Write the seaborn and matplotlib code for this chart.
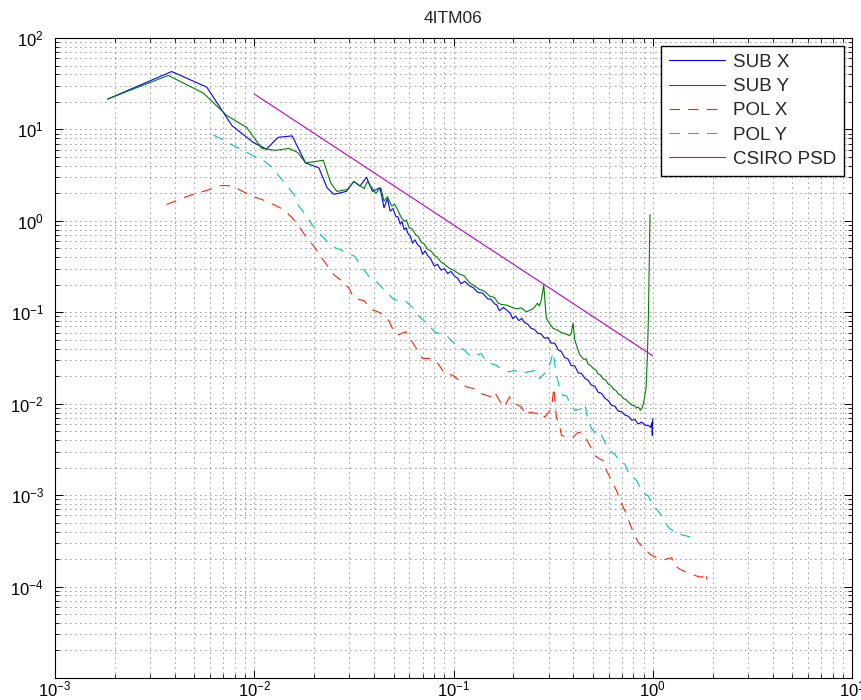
import matplotlib
matplotlib.use("Agg")
import matplotlib.pyplot as plt
import seaborn as sns
from matplotlib.ticker import LogLocator, NullFormatter, FixedLocator, FixedFormatter

# ---- spectra (frequency in Hz, PSD) ----
sub_x_freq = [0.00184, 0.00385, 0.00578, 0.00773, 0.0099, 0.0115, 0.0132, 0.0155, 0.0181, 0.0211,
              0.0232, 0.0251, 0.029, 0.0316, 0.0339, 0.0366, 0.0392, 0.0428, 0.0448, 0.0466,
              0.0481, 0.0497, 0.0513, 0.0527, 0.054, 0.0552, 0.0565, 0.0578, 0.0592, 0.0607,
              0.0623, 0.064, 0.066, 0.068, 0.070, 0.072, 0.0741, 0.077, 0.080, 0.083,
              0.0865, 0.090, 0.0935, 0.097, 0.101, 0.105, 0.109, 0.114, 0.120, 0.126,
              0.1324, 0.140, 0.1486, 0.154, 0.1607, 0.165, 0.170, 0.178, 0.1875, 0.193,
              0.1986, 0.205, 0.213, 0.220, 0.2275, 0.236, 0.245, 0.255, 0.265, 0.275,
              0.2864, 0.297, 0.309, 0.322, 0.335, 0.348, 0.361, 0.375, 0.390, 0.406,
              0.422, 0.439, 0.456, 0.474, 0.492, 0.512, 0.533, 0.553, 0.575, 0.598,
              0.621, 0.646, 0.672, 0.698, 0.725, 0.755, 0.784, 0.814, 0.846, 0.880,
              0.914, 0.950, 0.975, 0.990, 0.995, 1.000]
sub_x_psd = [21.5, 43, 29, 11.0, 7.2, 6.1, 8.2, 8.5, 4.3, 3.8,
             2.3, 1.95, 2.1, 2.7, 2.4, 3.0, 2.1, 2.3, 1.39, 1.75,
             1.28, 1.36, 1.12, 1.10, 0.92, 0.98, 0.80, 0.84, 0.72, 0.68,
             0.57, 0.62, 0.55, 0.52, 0.43, 0.47, 0.42, 0.38, 0.32, 0.335,
             0.29, 0.30, 0.265, 0.28, 0.25, 0.235, 0.205, 0.218, 0.195, 0.185,
             0.165, 0.162, 0.140, 0.139, 0.124, 0.120, 0.104, 0.113, 0.103, 0.097,
             0.085, 0.091, 0.081, 0.086, 0.077, 0.074, 0.067, 0.065, 0.059, 0.058,
             0.052, 0.053, 0.046, 0.046, 0.039, 0.037, 0.032, 0.031, 0.026, 0.026,
             0.0218, 0.0214, 0.0190, 0.0180, 0.0160, 0.0155, 0.0133, 0.0130, 0.0115, 0.0108,
             0.0096, 0.0094, 0.0083, 0.0082, 0.0075, 0.0073, 0.0066, 0.0067, 0.0060, 0.0063,
             0.0058, 0.0058, 0.0055, 0.0062, 0.0045, 0.0068]

sub_y_freq = [0.00184, 0.0037, 0.00556, 0.00728, 0.00918, 0.0109, 0.01277, 0.0149, 0.01652, 0.0181,
              0.0222, 0.0242, 0.0260, 0.0293, 0.0316, 0.0356, 0.0370, 0.0407, 0.0432, 0.0448,
              0.0466, 0.0490, 0.0507, 0.0524, 0.0545, 0.0565, 0.0580, 0.0599, 0.0620, 0.0647,
              0.0665, 0.0690, 0.0713, 0.0740, 0.0770, 0.0800, 0.0830, 0.0865, 0.0900, 0.0950,
              0.1010, 0.1070, 0.1133, 0.1200, 0.1270, 0.1350, 0.1430, 0.1520, 0.1607, 0.1670,
              0.1734, 0.1840, 0.1950, 0.2070, 0.2190, 0.2320, 0.2457, 0.2550, 0.2636, 0.2700,
              0.2760, 0.2838, 0.2890, 0.2924, 0.3030, 0.3160, 0.3320, 0.3480, 0.3650, 0.3830,
              0.3910, 0.3980, 0.4060, 0.4180, 0.4300, 0.4510, 0.4630, 0.4740, 0.4880, 0.5020,
              0.5170, 0.5320, 0.5480, 0.5650, 0.5810, 0.5980, 0.6160, 0.6350, 0.6530, 0.6720,
              0.6920, 0.7130, 0.7340, 0.7550, 0.7720, 0.7900, 0.8100, 0.8300, 0.8480, 0.8650,
              0.8800, 0.8980, 0.9250, 0.9400, 0.9510, 0.9620, 0.9690]
sub_y_psd = [21.5, 39, 24.9, 14.2, 10.5, 6.2, 5.9, 6.2, 5.6, 4.3,
             4.6, 2.6, 2.1, 2.2, 2.7, 2.25, 2.7, 2.0, 2.3, 1.64,
             1.84, 1.45, 1.52, 1.33, 1.10, 0.99, 1.02, 0.84, 0.82, 0.70,
             0.68, 0.58, 0.56, 0.49, 0.47, 0.42, 0.40, 0.355, 0.335, 0.305,
             0.285, 0.262, 0.250, 0.212, 0.195, 0.178, 0.170, 0.150, 0.145, 0.127,
             0.122, 0.120, 0.114, 0.109, 0.112, 0.101, 0.107, 0.113, 0.126, 0.117,
             0.137, 0.200, 0.116, 0.086, 0.076, 0.0667, 0.064, 0.0600, 0.058, 0.0555,
             0.060, 0.0758, 0.0497, 0.041, 0.0345, 0.0305, 0.031, 0.0270, 0.0262, 0.0243,
             0.0236, 0.0212, 0.0205, 0.0186, 0.0181, 0.0164, 0.0158, 0.0144, 0.0140, 0.0128,
             0.0124, 0.0114, 0.0111, 0.0103, 0.0101, 0.0096, 0.0095, 0.0090, 0.0092, 0.0085,
             0.0088, 0.0100, 0.0146, 0.0326, 0.0897, 0.445, 1.17]

pol_x_freq = [0.00363, 0.00476, 0.0060, 0.00687, 0.00772, 0.00867, 0.00973, 0.01094, 0.0125, 0.01405,
              0.0155, 0.0167, 0.0181, 0.0199, 0.0215, 0.0228, 0.0251, 0.0271, 0.0299, 0.0316,
              0.0356, 0.0384, 0.0423, 0.0466, 0.0494, 0.0524, 0.0577, 0.0611, 0.066, 0.070,
              0.0785, 0.0848, 0.090, 0.099, 0.107, 0.1156, 0.127, 0.1377, 0.1545, 0.1607,
              0.170, 0.180, 0.191, 0.1986, 0.219, 0.232, 0.241, 0.2656, 0.276, 0.2864,
              0.310, 0.319, 0.328, 0.341, 0.348, 0.376, 0.398, 0.4225, 0.448, 0.474,
              0.493, 0.512, 0.543, 0.565, 0.586, 0.610, 0.634, 0.659, 0.684, 0.711,
              0.740, 0.769, 0.800, 0.847, 0.898, 0.969, 1.047, 1.153, 1.247, 1.270,
              1.372, 1.513, 1.667, 1.765, 1.834, 1.870]
pol_x_psd = [1.51, 1.90, 2.21, 2.44, 2.41, 2.12, 1.87, 1.71, 1.51, 1.33,
             1.08, 0.875, 0.68, 0.527, 0.41, 0.345, 0.257, 0.226, 0.184, 0.1425,
             0.134, 0.108, 0.100, 0.086, 0.0667, 0.0563, 0.0613, 0.0497, 0.0386, 0.0313,
             0.0313, 0.0264, 0.0214, 0.0205, 0.018, 0.0153, 0.0146, 0.0129, 0.0119, 0.01346,
             0.01087, 0.0092, 0.0119, 0.01045, 0.0092, 0.0074, 0.0081, 0.00776, 0.0081, 0.00714,
             0.0088, 0.015, 0.00714, 0.00578, 0.00449, 0.0043, 0.0043, 0.00489, 0.00468, 0.00379,
             0.0032, 0.0027, 0.00249, 0.00238, 0.00185, 0.00157, 0.00132, 0.00111, 0.000904, 0.000733,
             0.000618, 0.00048, 0.000389, 0.000302, 0.000266, 0.000225, 0.000207, 0.000198, 0.000207, 0.000175,
             0.000154, 0.000141, 0.00013, 0.000126, 0.000143, 0.00012]

pol_y_freq = [0.00624, 0.00694, 0.00787, 0.00871, 0.0099, 0.01104, 0.01216, 0.0132, 0.01462, 0.0158,
              0.0167, 0.0181, 0.0195, 0.0211, 0.0232, 0.0256, 0.0293, 0.0319, 0.0349, 0.0377,
              0.0423, 0.0457, 0.0504, 0.0565, 0.0635, 0.0673, 0.0755, 0.080, 0.0935, 0.101,
              0.1133, 0.1225, 0.1377, 0.146, 0.1637, 0.177, 0.191, 0.2023, 0.219, 0.2366,
              0.2606, 0.2705, 0.2864, 0.2985, 0.316, 0.322, 0.328, 0.341, 0.355, 0.369,
              0.391, 0.406, 0.4385, 0.456, 0.474, 0.493, 0.522, 0.543, 0.565, 0.586,
              0.621, 0.646, 0.684, 0.725, 0.755, 0.784, 0.830, 0.863, 0.914, 0.951,
              0.989, 1.047, 1.110, 1.200, 1.270, 1.372, 1.483, 1.572]
pol_y_psd = [8.66, 7.76, 6.67, 5.96, 5.14, 4.62, 3.92, 3.16, 2.41, 1.95,
             1.46, 1.17, 0.91, 0.738, 0.598, 0.505, 0.449, 0.409, 0.305, 0.247,
             0.203, 0.169, 0.1365, 0.1365, 0.109, 0.0897, 0.0725, 0.0613, 0.054, 0.0456,
             0.0385, 0.0326, 0.0354, 0.0287, 0.0264, 0.0232, 0.0223, 0.0232, 0.0214, 0.0223,
             0.0232, 0.0188, 0.0214, 0.0232, 0.0363, 0.0275, 0.0214, 0.0146, 0.0123, 0.0122,
             0.0094, 0.00844, 0.0088, 0.0100, 0.00655, 0.00531, 0.00468, 0.00489, 0.00412, 0.00348,
             0.00294, 0.00282, 0.00229, 0.00219, 0.00177, 0.00163, 0.00144, 0.00122, 0.00103, 0.00098,
             0.000796, 0.000701, 0.000593, 0.000442, 0.000405, 0.000373, 0.000357, 0.000343]

csiro_freq = [0.01, 1.0]
csiro_psd = [24.4, 0.0334]

series_labels = ["SUB X", "SUB Y", "POL X", "POL Y", "CSIRO PSD"]
series_colors = ["#0000ff", "#008000", "#ff2200", "#00bfbf", "#bf00bf"]

x_tick_values = [1e-3, 1e-2, 1e-1, 1e0, 1e1]
x_tick_labels = [r"$\mathdefault{10^{-3}}$", r"$\mathdefault{10^{-2}}$", r"$\mathdefault{10^{-1}}$",
                 r"$\mathdefault{10^{0}}$", r"$\mathdefault{10^{1}}$"]
y_tick_values = [1e-5, 1e-4, 1e-3, 1e-2, 1e-1, 1e0, 1e1, 1e2]
y_tick_labels = ["", r"$\mathdefault{10^{-4}}$", r"$\mathdefault{10^{-3}}$", r"$\mathdefault{10^{-2}}$",
                 r"$\mathdefault{10^{-1}}$", r"$\mathdefault{10^{0}}$", r"$\mathdefault{10^{1}}$",
                 r"$\mathdefault{10^{2}}$"]

sns.set_theme(style="white")
plt.rcParams.update({
    "font.family": ["Liberation Sans", "DejaVu Sans"],
    "lines.scale_dashes": False,
    "axes.edgecolor": "black",
    "axes.linewidth": 0.8,
    "xtick.color": "black",
    "ytick.color": "black",
    "xtick.direction": "in",
    "ytick.direction": "in",
    "xtick.top": True,
    "ytick.right": True,
    "xtick.bottom": True,
    "ytick.left": True,
})

fig = plt.figure(figsize=(8.61, 7.0), dpi=100)
ax = fig.add_axes([55 / 861, 1 - 678 / 700, 797 / 861, 640 / 700])
ax.set_xscale("log")
ax.set_yscale("log")

dash = (0, (7.5, 6.0))
line_specs = [
    (sub_x_freq, sub_x_psd, "-"),
    (sub_y_freq, sub_y_psd, "-"),
    (pol_x_freq, pol_x_psd, dash),
    (pol_y_freq, pol_y_psd, dash),
    (csiro_freq, csiro_psd, "-"),
]
for (f, p, ls), label, color in zip(line_specs, series_labels, series_colors):
    sns.lineplot(x=f, y=p, ax=ax, color=color, linestyle=ls, linewidth=0.8,
                 label=label, estimator=None, sort=False)

ax.set_xlim(1e-3, 1e1)
ax.set_ylim(1e-5, 1e2)

ax.xaxis.set_major_locator(FixedLocator(x_tick_values))
ax.xaxis.set_major_formatter(FixedFormatter(x_tick_labels))
ax.yaxis.set_major_locator(FixedLocator(y_tick_values))
ax.yaxis.set_major_formatter(FixedFormatter(y_tick_labels))
for axis in (ax.xaxis, ax.yaxis):
    axis.set_minor_locator(LogLocator(base=10, subs=range(2, 10), numticks=100))
    axis.set_minor_formatter(NullFormatter())

ax.tick_params(which="major", length=5.8, width=0.7, labelsize=12)
ax.tick_params(which="minor", length=2.9, width=0.6)
ax.tick_params(axis="x", which="major", pad=1.0)
ax.tick_params(axis="y", which="major", pad=8)

ax.set_axisbelow(True)
ax.grid(True, which="both", linestyle=(0, (0.6, 3.0)), linewidth=0.7, color="#4a4a4a")

for spine in ax.spines.values():
    spine.set_visible(True)
    spine.set_color("black")
    spine.set_linewidth(0.8)

ax.set_title("4ITM06", fontsize=12.5, pad=11)

leg = ax.legend(loc="upper right", fontsize=13.5, frameon=True, fancybox=False, shadow=False,
                framealpha=1.0, borderaxespad=0.42, borderpad=0.42, handlelength=3.0,
                handletextpad=0.42, labelspacing=0.38)
leg.get_frame().set_edgecolor("black")
leg.get_frame().set_linewidth(1.0)
leg.get_frame().set_facecolor("white")

fig.savefig("out.png", dpi=100)
